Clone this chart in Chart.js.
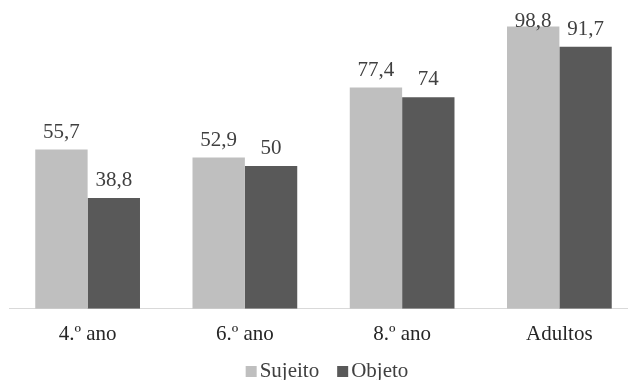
<!DOCTYPE html>
<html>
<head>
<meta charset="utf-8">
<script src="https://cdn.jsdelivr.net/npm/chart.js@4/dist/chart.umd.min.js"></script>
<style>
  html, body { margin: 0; padding: 0; background: #ffffff; }
  #wrap { width: 628px; height: 380px; overflow: hidden; position: relative; }
  canvas { display: block; }
</style>
</head>
<body>
<div id="wrap"><canvas id="c" width="640" height="380"></canvas></div>
<script>
const categories = ['4.º ano', '6.º ano', '8.º ano', 'Adultos'];
const sujeito = [55.7, 52.9, 77.4, 98.8];
const objeto = [38.8, 50, 74, 91.7];
const seriesNames = ['Sujeito', 'Objeto'];

const FONT = "'Liberation Serif', 'Times New Roman', serif";

function fmt(v) {
  return String(v).replace('.', ',');
}

// Value labels above each bar, kept inside the plot area
const valueLabels = {
  id: 'valueLabels',
  afterDatasetsDraw(chart) {
    const ctx = chart.ctx;
    const top = chart.chartArea.top;
    ctx.save();
    ctx.font = '21px ' + FONT;
    ctx.fillStyle = '#404040';
    ctx.textAlign = 'center';
    ctx.textBaseline = 'alphabetic';
    chart.data.datasets.forEach((ds, i) => {
      const meta = chart.getDatasetMeta(i);
      meta.data.forEach((bar, j) => {
        const y = Math.max(bar.y - 12, top + 4);
        ctx.fillText(fmt(ds.data[j]), bar.x, y);
      });
    });
    ctx.restore();
  }
};

// Legend row with small square swatches under the axis labels
const bottomLegend = {
  id: 'bottomLegend',
  afterDraw(chart, args, opts) {
    const ctx = chart.ctx;
    ctx.save();
    ctx.font = '21px ' + FONT;
    ctx.textBaseline = 'alphabetic';
    ctx.textAlign = 'left';
    const box = 11, gapText = 3, gapItem = 18;
    const items = chart.data.datasets.map(ds => ({
      text: ds.label, color: ds.backgroundColor, w: ctx.measureText(ds.label).width
    }));
    let total = 0;
    items.forEach((it, k) => { total += box + gapText + it.w + (k ? gapItem : 0); });
    let x = opts.centerX - total / 2;
    items.forEach((it, k) => {
      if (k) x += gapItem;
      ctx.fillStyle = it.color;
      ctx.fillRect(x, opts.baseline - box, box, box);
      x += box + gapText;
      ctx.fillStyle = '#404040';
      ctx.fillText(it.text, x, opts.baseline);
      x += it.w;
    });
    ctx.restore();
  }
};

new Chart(document.getElementById('c'), {
  type: 'bar',
  data: {
    labels: categories,
    datasets: [
      { label: seriesNames[0], data: sujeito, backgroundColor: '#bfbfbf' },
      { label: seriesNames[1], data: objeto, backgroundColor: '#595959' }
    ]
  },
  options: {
    responsive: false,
    animation: false,
    layout: { padding: { left: 9, right: 2, top: 23, bottom: 20 } },
    datasets: {
      bar: { categoryPercentage: 0.666, barPercentage: 1.0, borderWidth: 0 }
    },
    scales: {
      x: {
        grid: { display: false, drawTicks: false },
        border: { display: true, color: '#d9d9d9', width: 1 },
        ticks: {
          color: '#262626',
          padding: 13,
          font: { family: FONT, size: 21, lineHeight: 1.2 }
        }
      },
      y: {
        display: false,
        min: 0,
        max: 100
      }
    },
    plugins: {
      legend: { display: false },
      tooltip: { enabled: false },
      bottomLegend: { centerX: 327, baseline: 377 }
    }
  },
  plugins: [valueLabels, bottomLegend]
});
</script>
</body>
</html>
